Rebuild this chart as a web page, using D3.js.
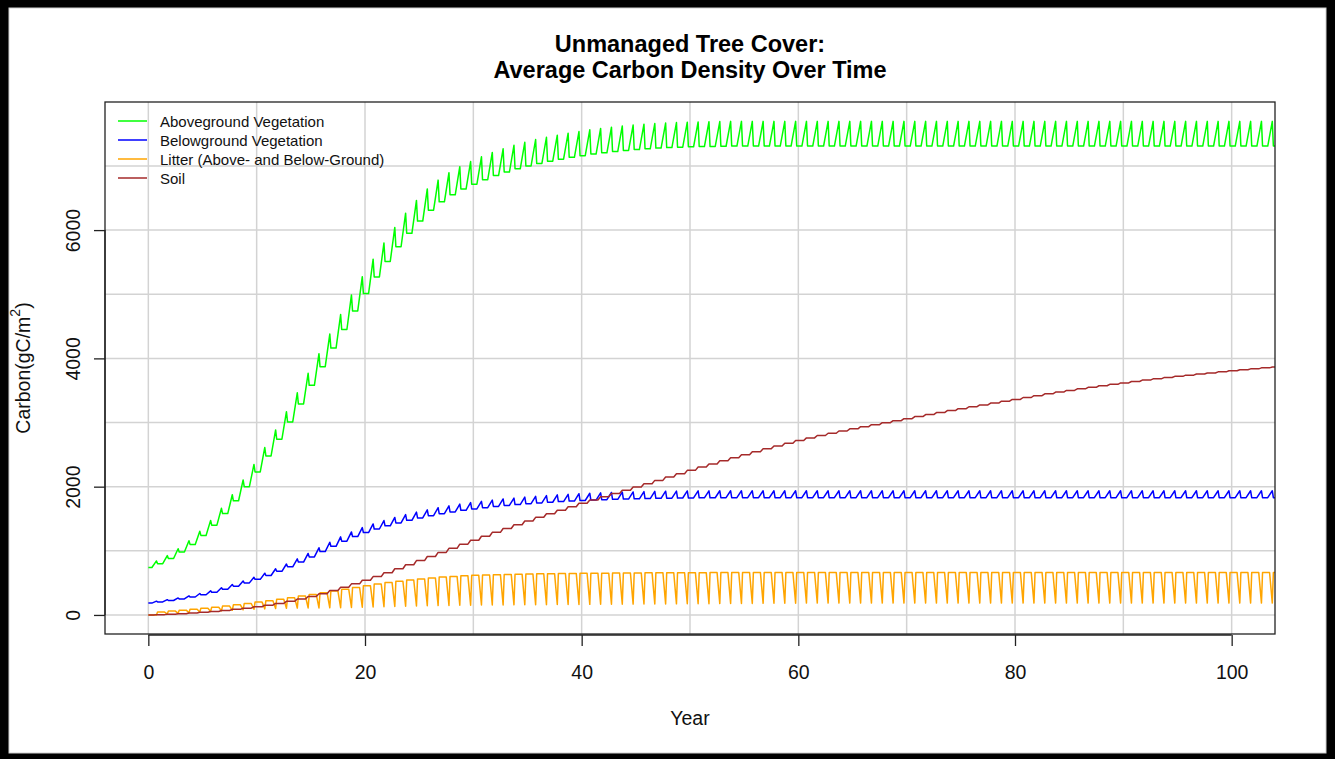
<!DOCTYPE html>
<html>
<head>
<meta charset="utf-8">
<script src="https://cdn.jsdelivr.net/npm/d3@7"></script>
<style>
  html, body { margin: 0; padding: 0; background: #000; }
  svg { display: block; font-family: "Liberation Sans", Arial, Helvetica, sans-serif; }
</style>
</head>
<body>
<svg id="chart" width="1335" height="759"></svg>
<script>
// ---- Annual carbon pools (gC/m2), years 0..104 ----
// Aboveground vegetation: dormant-season level and end-of-growing-season peak
const aboveWinter = [
  740, 800, 880, 980, 1100, 1240, 1400, 1580, 1780, 2000,
  2230, 2480, 2740, 3010, 3290, 3580, 3870, 4160, 4450, 4740,
  5010, 5270, 5510, 5740, 5950, 6140, 6310, 6440, 6550, 6640,
  6715, 6785, 6850, 6905, 6955, 7000, 7040, 7075, 7105, 7135,
  7160, 7185, 7205, 7225, 7242, 7256, 7268, 7278, 7286, 7293,
  7298, 7302, 7305, 7307, 7310, 7310, 7310, 7310, 7310, 7310,
  7310, 7310, 7310, 7310, 7310, 7310, 7310, 7310, 7310, 7310,
  7310, 7310, 7310, 7310, 7310, 7310, 7310, 7310, 7310, 7310,
  7310, 7310, 7310, 7310, 7310, 7310, 7310, 7310, 7310, 7310,
  7310, 7310, 7310, 7310, 7310, 7310, 7310, 7310, 7310, 7310,
  7310, 7310, 7310, 7310, 7310
];
const abovePeak = [
  842, 926, 1032, 1158, 1305, 1474, 1663, 1874, 2105, 2347,
  2611, 2884, 3168, 3463, 3768, 4074, 4379, 4684, 4989, 5274,
  5547, 5800, 6042, 6263, 6463, 6642, 6779, 6895, 6989, 7068,
  7142, 7211, 7268, 7321, 7368, 7411, 7447, 7479, 7511, 7537,
  7563, 7584, 7605, 7623, 7638, 7651, 7661, 7669, 7677, 7682,
  7686, 7689, 7692, 7695, 7695, 7695, 7695, 7695, 7695, 7695,
  7695, 7695, 7695, 7695, 7695, 7695, 7695, 7695, 7695, 7695,
  7695, 7695, 7695, 7695, 7695, 7695, 7695, 7695, 7695, 7695,
  7695, 7695, 7695, 7695, 7695, 7695, 7695, 7695, 7695, 7695,
  7695, 7695, 7695, 7695, 7695, 7695, 7695, 7695, 7695, 7695,
  7695, 7695, 7695, 7695, 7695
];
// Belowground vegetation
const belowWinter = [
  185, 203, 225, 250, 280, 315, 355, 400, 448, 500,
  555, 615, 680, 750, 825, 905, 988, 1070, 1150, 1222,
  1285, 1340, 1390, 1435, 1476, 1513, 1547, 1578, 1606, 1631,
  1653, 1673, 1691, 1707, 1721, 1734, 1746, 1757, 1767, 1776,
  1784, 1791, 1797, 1802, 1807, 1811, 1815, 1818, 1821, 1823,
  1825, 1826, 1827, 1828, 1828, 1828, 1828, 1828, 1828, 1828,
  1828, 1828, 1828, 1828, 1828, 1828, 1828, 1828, 1828, 1828,
  1828, 1828, 1828, 1828, 1828, 1828, 1828, 1828, 1828, 1828,
  1828, 1828, 1828, 1828, 1828, 1828, 1828, 1828, 1828, 1828,
  1828, 1828, 1828, 1828, 1828, 1828, 1828, 1828, 1828, 1828,
  1828, 1828, 1828, 1828, 1828
];
const belowPeak = [
  215, 238, 265, 297, 334, 376, 424, 475, 530, 588,
  651, 720, 794, 874, 959, 1047, 1133, 1218, 1294, 1361,
  1419, 1472, 1520, 1564, 1603, 1639, 1672, 1701, 1728, 1751,
  1772, 1791, 1808, 1823, 1837, 1850, 1861, 1872, 1881, 1890,
  1897, 1904, 1909, 1914, 1918, 1923, 1926, 1929, 1931, 1933,
  1934, 1935, 1936, 1936, 1936, 1936, 1936, 1936, 1936, 1936,
  1936, 1936, 1936, 1936, 1936, 1936, 1936, 1936, 1936, 1936,
  1936, 1936, 1936, 1936, 1936, 1936, 1936, 1936, 1936, 1936,
  1936, 1936, 1936, 1936, 1936, 1936, 1936, 1936, 1936, 1936,
  1936, 1936, 1936, 1936, 1936, 1936, 1936, 1936, 1936, 1936,
  1936, 1936, 1936, 1936, 1936
];
// Litter: level right after leaf fall, and low point after turnover
const litterHigh = [
  45, 60, 75, 90, 105, 120, 138, 158, 178, 200,
  222, 246, 270, 295, 320, 346, 373, 400, 428, 456,
  482, 505, 526, 545, 562, 577, 590, 601, 610, 617,
  623, 628, 632, 636, 639, 642, 644, 646, 648, 650,
  651, 652, 653, 654, 655, 656, 657, 658, 658, 659,
  659, 660, 660, 660, 660, 660, 660, 660, 660, 660,
  660, 660, 660, 660, 660, 660, 660, 660, 660, 660,
  660, 660, 660, 660, 660, 660, 660, 660, 660, 660,
  660, 660, 660, 660, 660, 660, 660, 660, 660, 660,
  660, 660, 660, 660, 660, 660, 660, 660, 660, 660,
  660, 660, 660, 660, 660
];
const litterLow = [
  0, 15, 25, 35, 45, 55, 63, 72, 80, 88,
  95, 100, 104, 107, 109, 110, 112, 114, 117, 120,
  124, 128, 132, 136, 140, 143, 146, 149, 151, 153,
  155, 156, 157, 158, 159, 160, 161, 162, 163, 164,
  165, 166, 167, 168, 169, 170, 171, 172, 173, 174,
  175, 176, 177, 178, 179, 180, 181, 182, 183, 184,
  185, 185, 185, 185, 185, 185, 185, 185, 185, 185,
  185, 185, 185, 185, 185, 185, 185, 185, 185, 185,
  185, 185, 185, 185, 185, 185, 185, 185, 185, 185,
  185, 185, 185, 185, 185, 185, 185, 185, 185, 185,
  185, 185, 185, 185, 185
];
// Soil: level at the start of each year
const soilStart = [
  0, 5, 12, 20, 30, 42, 55, 70, 87, 106,
  128, 152, 180, 212, 248, 288, 332, 380, 431, 485,
  540, 598, 658, 720, 783, 847, 911, 975, 1039, 1103,
  1165, 1227, 1288, 1348, 1407, 1465, 1522, 1578, 1633, 1687,
  1740, 1792, 1843, 1893, 1944, 1995, 2046, 2098, 2150, 2202,
  2254, 2305, 2355, 2404, 2452, 2499, 2545, 2590, 2634, 2677,
  2720, 2760, 2798, 2833, 2868, 2902, 2935, 2967, 2998, 3029,
  3060, 3092, 3124, 3155, 3186, 3216, 3246, 3275, 3304, 3332,
  3360, 3390, 3419, 3447, 3474, 3500, 3525, 3549, 3573, 3596,
  3618, 3640, 3661, 3681, 3701, 3720, 3738, 3756, 3773, 3790,
  3806, 3822, 3837, 3852, 3866
];

// Seasonal timing within a year (fraction of year)
const growthStart = 0.33, growthPeak = 0.75, leafFallEnd = 0.85;
const turnoverStart = 0.5, turnoverEnd = 0.75;

const seriesNames = ["Aboveground Vegetation", "Belowground Vegetation",
                     "Litter (Above- and Below-Ground)", "Soil"];
const seriesColors = ["#00FF00", "#0000FF", "#FFA500", "#A52A2A"];
const xTicks = [0, 20, 40, 60, 80, 100];
const yTicks = [0, 2000, 4000, 6000];
const xGrid = [0, 10, 20, 30, 40, 50, 60, 70, 80, 90, 100];
const yGrid = [0, 1000, 2000, 3000, 4000, 5000, 6000, 7000];
const lastYear = aboveWinter.length - 1;

// ---- Build seasonal time series ----
function vegetation(winter, peak) {
  const pts = [];
  for (let yr = 0; yr < lastYear; yr++) {
    pts.push([yr, winter[yr]]);
    pts.push([yr + growthStart, winter[yr]]);
    pts.push([yr + growthPeak, peak[yr]]);
    pts.push([yr + leafFallEnd, winter[yr + 1]]);
  }
  pts.push([lastYear, winter[lastYear]]);
  return pts;
}
function litter(high, low) {
  const pts = [];
  for (let yr = 0; yr < lastYear; yr++) {
    const carried = yr === 0 ? low[0] : high[yr - 1];
    pts.push([yr, carried]);
    pts.push([yr + turnoverStart, carried]);
    pts.push([yr + growthPeak, low[yr]]);
    pts.push([yr + leafFallEnd, high[yr]]);
  }
  pts.push([lastYear, high[lastYear - 1]]);
  return pts;
}
function soil(start) {
  const pts = [];
  for (let yr = 0; yr < lastYear; yr++) {
    pts.push([yr, start[yr]]);
    pts.push([yr + turnoverStart, start[yr]]);
    pts.push([yr + turnoverEnd, start[yr + 1]]);
  }
  pts.push([lastYear, start[lastYear]]);
  return pts;
}
const series = [
  vegetation(aboveWinter, abovePeak),
  vegetation(belowWinter, belowPeak),
  litter(litterHigh, litterLow),
  soil(soilStart)
];

// ---- Layout ----
const W = 1335, H = 759;
const plot = { left: 105, right: 1275, top: 102, bottom: 634 };
const FONT = "'Liberation Sans', Arial, Helvetica, sans-serif";
const svg = d3.select("#chart");

// page frame
svg.append("rect").attr("x", 0).attr("y", 0).attr("width", W).attr("height", H).attr("fill", "#000");
svg.append("rect").attr("x", 9).attr("y", 8).attr("width", 1317).attr("height", 745)
  .attr("fill", "#fff").attr("stroke", "#cfcfcf").attr("stroke-width", 1);

const x = d3.scaleLinear().domain([-4, 104]).range([plot.left, plot.right]);
const y = d3.scaleLinear().domain([-297, 7997]).range([plot.bottom, plot.top]);

// grid
const grid = svg.append("g").attr("stroke", "#d3d3d3").attr("stroke-width", 1.5);
grid.selectAll(".gx").data(xGrid).join("line")
  .attr("x1", d => x(d)).attr("x2", d => x(d))
  .attr("y1", plot.top).attr("y2", plot.bottom);
grid.selectAll(".gy").data(yGrid).join("line")
  .attr("x1", plot.left).attr("x2", plot.right)
  .attr("y1", d => y(d)).attr("y2", d => y(d));

// series lines, clipped to the plot region
svg.append("clipPath").attr("id", "plotclip").append("rect")
  .attr("x", plot.left).attr("y", plot.top)
  .attr("width", plot.right - plot.left).attr("height", plot.bottom - plot.top);
const line = d3.line().x(d => x(d[0])).y(d => y(d[1]));
svg.append("g").attr("clip-path", "url(#plotclip)")
  .selectAll("path").data(series).join("path")
  .attr("d", line)
  .attr("fill", "none")
  .attr("stroke", (d, i) => seriesColors[i])
  .attr("stroke-width", 1.5)
  .attr("stroke-linejoin", "round");

// plot box
svg.append("rect")
  .attr("x", plot.left).attr("y", plot.top)
  .attr("width", plot.right - plot.left).attr("height", plot.bottom - plot.top)
  .attr("fill", "none").attr("stroke", "#222").attr("stroke-width", 1.3);

// x axis
const xAxis = svg.append("g").attr("transform", `translate(0,${plot.bottom + 1})`)
  .call(d3.axisBottom(x).tickValues(xTicks).tickFormat(d3.format("d")).tickSize(11).tickPadding(19));
xAxis.select(".domain").remove();
xAxis.append("line").attr("x1", x(xTicks[0])).attr("x2", x(xTicks[xTicks.length - 1]))
  .attr("stroke", "#222").attr("stroke-width", 1.3);
xAxis.selectAll(".tick line").attr("stroke", "#222").attr("stroke-width", 1.3);
xAxis.selectAll("text").attr("font-size", 19.5).attr("fill", "#111").style("font-family", FONT);

// y axis
const yAxis = svg.append("g").attr("transform", `translate(${plot.left},0)`)
  .call(d3.axisLeft(y).tickValues(yTicks).tickFormat(d3.format("d")).tickSize(11));
yAxis.select(".domain").remove();
yAxis.append("line").attr("y1", y(yTicks[0])).attr("y2", y(yTicks[yTicks.length - 1]))
  .attr("stroke", "#222").attr("stroke-width", 1.3);
yAxis.selectAll(".tick line").attr("stroke", "#222").attr("stroke-width", 1.3);
yAxis.selectAll("text")
  .attr("x", null).attr("dy", null)
  .attr("transform", "translate(-32,0) rotate(-90)")
  .attr("text-anchor", "middle").attr("dominant-baseline", "central")
  .attr("font-size", 19.5).attr("fill", "#111").style("font-family", FONT);

// title
const cx = (plot.left + plot.right) / 2;
const title = svg.append("text").attr("x", cx).attr("y", 52)
  .attr("text-anchor", "middle").attr("font-weight", "bold").attr("font-size", 23.5).attr("fill", "#000");
title.append("tspan").attr("x", cx).attr("y", 52).text("Unmanaged Tree Cover:");
title.append("tspan").attr("x", cx).attr("y", 78).text("Average Carbon Density Over Time");

// axis titles
svg.append("text").attr("x", cx).attr("y", 725)
  .attr("text-anchor", "middle").attr("font-size", 19.5).attr("fill", "#111").text("Year");
const yl = svg.append("text")
  .attr("transform", `translate(23,${(plot.top + plot.bottom) / 2}) rotate(-90)`)
  .attr("text-anchor", "middle").attr("dominant-baseline", "central")
  .attr("font-size", 19.5).attr("fill", "#111");
yl.append("tspan").text("Carbon(gC/m");
yl.append("tspan").attr("font-size", 14).attr("dy", -8).text("2");
yl.append("tspan").attr("dy", 8).text(")");

// legend
const legend = svg.append("g");
seriesNames.forEach((name, i) => {
  const ly = 121 + i * 19;
  legend.append("line").attr("x1", 118).attr("x2", 147).attr("y1", ly).attr("y2", ly)
    .attr("stroke", seriesColors[i]).attr("stroke-width", 1.5);
  legend.append("text").attr("x", 160).attr("y", ly).attr("dominant-baseline", "central")
    .attr("font-size", 15).attr("fill", "#111").text(name);
});
</script>
</body>
</html>
